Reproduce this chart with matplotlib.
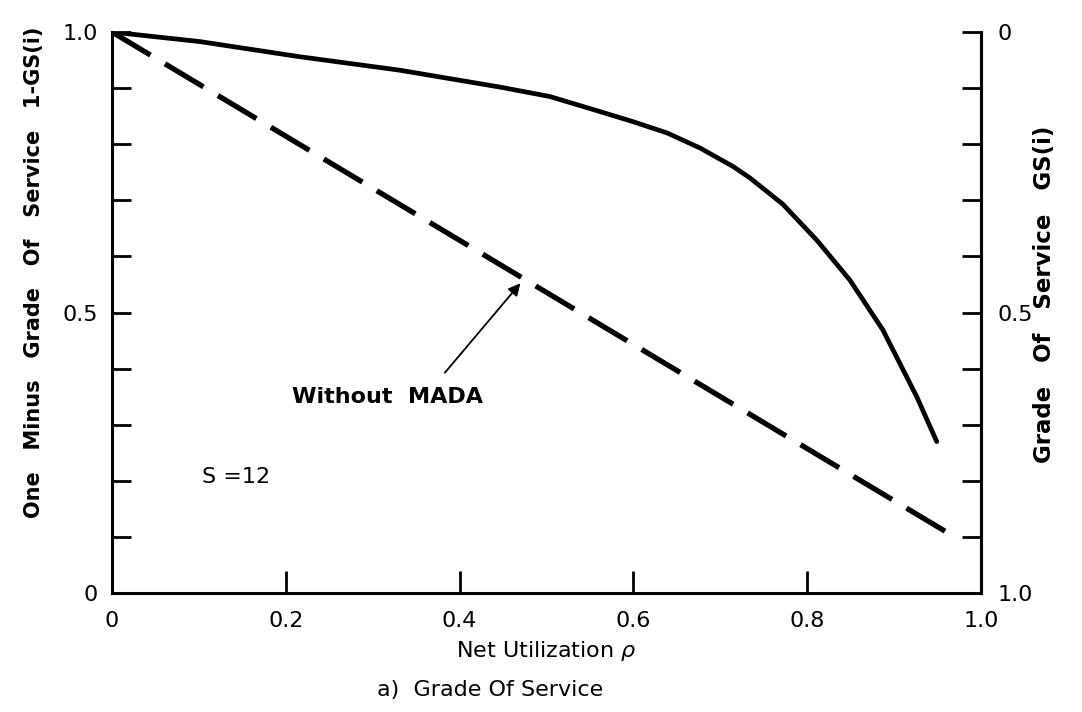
import matplotlib
matplotlib.use("Agg")
import matplotlib.pyplot as plt
import numpy as np

# Data
rho_mada = [0.0, 0.101, 0.216, 0.331, 0.446, 0.504, 0.562, 0.600, 0.639, 0.677,
            0.715, 0.734, 0.772, 0.811, 0.849, 0.887, 0.926, 0.949]
gs_mada = [1.0, 0.983, 0.956, 0.932, 0.902, 0.885, 0.858, 0.840, 0.820, 0.793,
           0.760, 0.740, 0.693, 0.629, 0.558, 0.469, 0.350, 0.270]

rho_nomada = [0.0, 0.962]
gs_nomada = [1.0, 0.107]

x_ticks = [0, 0.2, 0.4, 0.6, 0.8, 1.0]
x_ticklabels = ["0", "0.2", "0.4", "0.6", "0.8", "1.0"]
yl_ticks = [0, 0.5, 1.0]
yl_ticklabels = ["0", "0.5", "1.0"]
yr_ticks = [0, 0.5, 1.0]
yr_ticklabels = ["0", "0.5", "1.0"]

fig = plt.figure(figsize=(10.82, 7.12), dpi=100)
ax = fig.add_axes([0.1035, 0.1671, 0.8032, 0.7879])

ax.plot(rho_mada, gs_mada, color="black", lw=3.4, solid_capstyle="round",
        solid_joinstyle="round")
ax.plot(rho_nomada, gs_nomada, color="black", lw=3.8, dashes=(8.5, 3.2))

ax.set_xlim(0, 1.0)
ax.set_ylim(0, 1.0)
ax.spines["top"].set_visible(False)
for s in ["left", "bottom", "right"]:
    ax.spines[s].set_linewidth(2.2)

ax.set_xticks(x_ticks)
ax.set_xticklabels(x_ticklabels, fontsize=16)
ax.set_yticks(yl_ticks)
ax.set_yticklabels(yl_ticklabels, fontsize=16)
ax.set_yticks(np.arange(0, 1.01, 0.1), minor=True)
ax.tick_params(axis="x", direction="in", length=16, width=2, pad=13)
ax.tick_params(axis="y", which="both", direction="in", length=14, width=2, pad=10)

ax2 = ax.twinx()
ax2.set_ylim(1.0, 0.0)
ax2.spines["top"].set_visible(False)
ax2.spines["right"].set_linewidth(2.2)
ax2.set_yticks(yr_ticks)
ax2.set_yticklabels(yr_ticklabels, fontsize=16)
ax2.set_yticks(np.arange(0, 1.01, 0.1), minor=True)
ax2.tick_params(axis="y", which="both", direction="in", length=14, width=2, pad=12)

fig.text(34 / 1082, 0.618, "One   Minus   Grade   Of   Service   1-GS(i)", fontsize=15,
         fontweight="bold", rotation=90, ha="center", va="center")
fig.text(1045 / 1082, 0.587, "Grade   Of   Service   GS(i)", fontsize=16.5,
         fontweight="bold", rotation=90, ha="center", va="center")
ax.set_xlabel("Net Utilization $\\rho$", fontsize=16, labelpad=6)

fig.text(0.453, 0.031, "a)  Grade Of Service", fontsize=16, ha="center", va="center")

ax.annotate("", xy=(0.472, 0.556), xytext=(0.381, 0.389),
            arrowprops=dict(arrowstyle="-|>", color="black", lw=1.3, mutation_scale=18))
ax.text(0.207, 0.349, "Without  MADA", fontsize=16, fontweight="bold", ha="left", va="center")
ax.text(0.104, 0.207, "S =12", fontsize=16, ha="left", va="center")

fig.savefig("out.png", dpi=100, facecolor="white")
